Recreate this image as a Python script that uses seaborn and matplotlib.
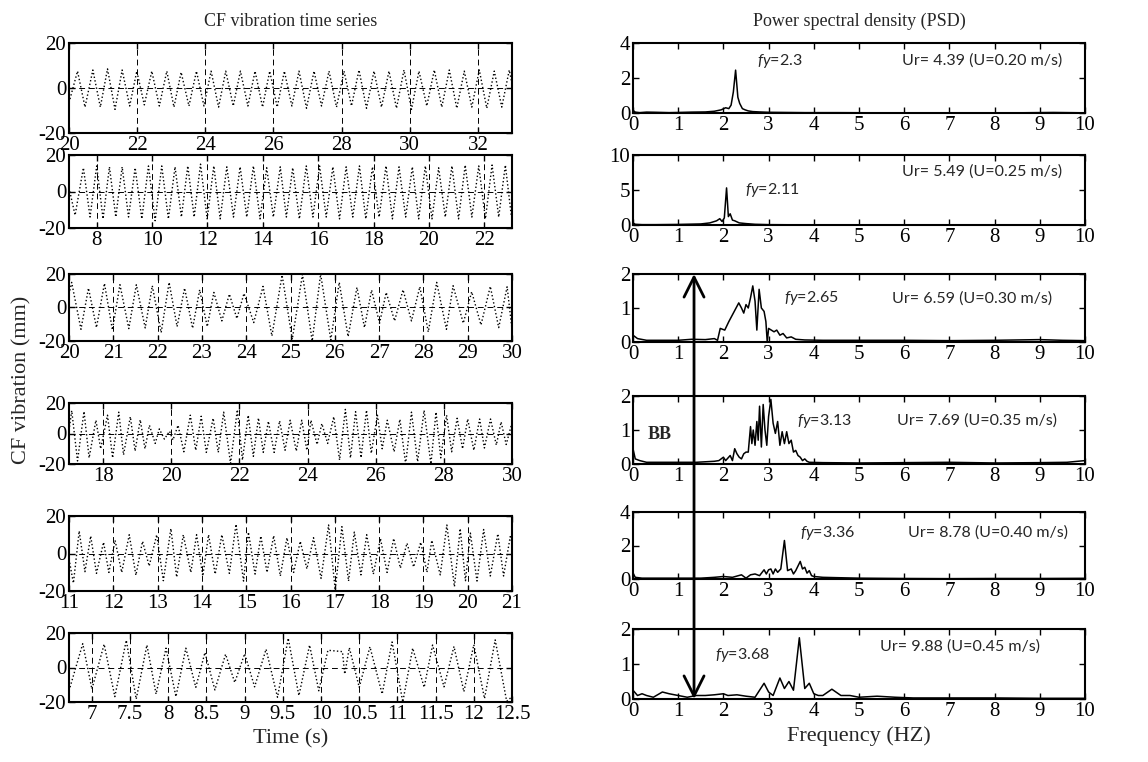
import numpy as np
import matplotlib
matplotlib.use("Agg")
import matplotlib.pyplot as plt
from matplotlib.patches import ConnectionPatch
import seaborn as sns

# ----- time series: peaks / troughs (t in s, y in mm) -----
ts1_pk_t = [20.25, 20.70, 21.13, 21.56, 21.99, 22.43, 22.87, 23.29, 23.74, 24.17, 24.60, 25.03, 25.46, 25.89, 26.32,
            26.75, 27.19, 27.63, 28.07, 28.51, 28.95, 29.39, 29.83, 30.27, 30.72, 31.16, 31.60, 32.04, 32.48, 32.92]
ts1_pk_y = [7.5, 8, 8.5, 8, 7.5, 7.5, 7.5, 7, 7.5, 7.5, 7.5, 7.5, 7.5, 7.5, 7.5,
            7.5, 7.5, 7.5, 7.5, 8, 7.5, 7.5, 8, 7.5, 8, 8, 7.5, 8, 7.5, 8]
ts1_tr_t = [20.0, 20.47, 20.92, 21.35, 21.78, 22.21, 22.65, 23.08, 23.52, 23.96, 24.39, 24.82, 25.25, 25.68, 26.11,
            26.54, 26.97, 27.41, 27.85, 28.29, 28.73, 29.17, 29.61, 30.05, 30.50, 30.94, 31.38, 31.82, 32.26, 32.70, 33.0]
ts1_tr_y = [-6.5, -8.5, -8.5, -9.5, -8, -7.5, -8, -8.5, -8, -8, -8.5, -8, -8, -8.5, -8.5,
            -8, -9, -8, -8.5, -8, -9, -8.5, -9, -9.5, -8, -8.5, -9, -8.5, -9, -8.5, 2]

ts2_pk_t = [7.52, 8.00, 8.46, 8.92, 9.39, 9.87, 10.35, 10.83, 11.29, 11.75, 12.23, 12.70, 13.18, 13.66, 14.14, 14.63, 15.08,
            15.57, 16.05, 16.53, 17.01, 17.49, 17.96, 18.45, 18.92, 19.40, 19.87, 20.35, 20.83, 21.31, 21.80, 22.28, 22.76]
ts2_pk_y = [13, 14, 13.5, 13.5, 13, 14, 14, 13.5, 14, 15, 14, 13.5, 13.5, 14, 13, 13.5, 13,
            14, 14, 13.5, 13.5, 14, 13.5, 14, 13.5, 13.5, 14, 13, 14, 14.5, 14, 14.5, 14.5]
ts2_tr_t = [7.0, 7.22, 7.76, 8.23, 8.69, 9.15, 9.63, 10.11, 10.59, 11.06, 11.52, 11.99, 12.46, 12.94, 13.42, 13.90, 14.38, 14.85,
            15.32, 15.81, 16.29, 16.77, 17.25, 17.72, 18.20, 18.68, 19.16, 19.63, 20.11, 20.59, 21.07, 21.55, 22.04, 22.52, 22.98]
ts2_tr_y = [2, -13, -14, -15, -14, -14, -15, -16, -15, -14, -14, -15, -15, -14, -14, -15, -14, -14,
            -15, -14, -14, -15, -14, -15, -14, -15, -14, -15, -15, -14, -15, -14, -15, -14, -14]

ts3_pk_t = [20.06, 20.44, 20.80, 21.15, 21.52, 21.88, 22.26, 22.61, 22.95, 23.27, 23.62, 23.95, 24.38, 24.81,
            25.27, 25.68, 26.10, 26.50, 26.83, 27.16, 27.54, 27.92, 28.30, 28.67, 29.09, 29.51, 29.89]
ts3_pk_y = [15, 11.6, 14.4, 13.6, 13.6, 13, 15, 11.6, 10.6, 9, 8, 8.4, 12.6, 19.4,
            19.8, 20, 15, 12, 10.4, 9, 10.6, 12.4, 15, 13, 9.4, 12.6, 12.4]
ts3_tr_t = [20.0, 20.27, 20.62, 20.98, 21.35, 21.72, 22.08, 22.44, 22.79, 23.12, 23.45, 23.79, 24.17, 24.58,
            25.04, 25.49, 25.91, 26.30, 26.67, 27.01, 27.35, 27.73, 28.11, 28.52, 28.90, 29.30, 29.70, 30.0]
ts3_tr_y = [8, -13, -12, -13.4, -12.6, -12.2, -15, -11.4, -12.4, -11.4, -8, -6.6, -9, -17,
            -19, -20, -19.4, -17.4, -12, -9.4, -8, -8, -14.6, -13, -9.4, -10.4, -12, -13]

ts4_pk_t = [17.08, 17.44, 17.79, 18.13, 18.46, 18.80, 19.09, 19.36, 19.65, 19.95, 20.20, 20.56, 20.88, 21.23,
            21.54, 21.94, 22.26, 22.56, 22.85, 23.18, 23.49, 23.83, 24.10, 24.42, 24.77, 25.11, 25.41, 25.73,
            26.05, 26.34, 26.71, 27.05, 27.42, 27.77, 28.08, 28.39, 28.70, 29.05, 29.37, 29.68, 29.98]
ts4_pk_y = [15, 14.5, 8.7, 12, 14, 11, 9, 5.4, 3, 1.5, 5.4, 12, 11.3, 10,
            14, 15.6, 12, 10.2, 8, 8.3, 8.7, 8.7, 8.7, 6.5, 11, 15.8, 14.3, 15.3,
            12, 8.7, 9.3, 14, 15.2, 14, 12, 10, 9.5, 9.5, 9.5, 7.6, 5.4]
ts4_tr_t = [17.0, 17.25, 17.59, 17.93, 18.28, 18.60, 18.94, 19.23, 19.53, 19.80, 20.05, 20.37, 20.72, 21.03, 21.38,
            21.74, 22.09, 22.41, 22.70, 23.02, 23.34, 23.67, 23.98, 24.28, 24.59, 24.94, 25.26, 25.57, 25.87,
            26.19, 26.54, 26.88, 27.23, 27.62, 27.91, 28.23, 28.55, 28.88, 29.19, 29.54, 29.83]
ts4_tr_y = [2, -18, -16, -10, -16, -14, -11.5, -10, -6.5, -3.7, -4.3, -12, -11, -12.4, -12.4,
            -19.6, -17.4, -15, -12.4, -12.4, -11, -11.5, -11, -7.2, -6.5, -17.4, -16, -15.9, -13,
            -10, -12, -20, -18.5, -20, -16, -12, -10, -11, -9.5, -7.6, -7.2]

ts5_pk_t = [11.23, 11.49, 11.78, 12.04, 12.36, 12.66, 12.98, 13.30, 13.58, 13.88, 14.15, 14.45, 14.77, 15.05, 15.33, 15.62, 15.92,
            16.22, 16.52, 16.86, 17.16, 17.44, 17.72, 18.03, 18.33, 18.63, 18.94, 19.19, 19.53, 19.83, 20.06, 20.36, 20.68, 20.96, 21.0]
ts5_pk_y = [12, 9.3, 6, 7, 10, 6.5, 10, 13.3, 10, 10, 10, 10, 15.6, 11.4, 9.3, 9.5, 8.4,
            6.5, 8.4, 15.2, 14.3, 11.4, 10, 8, 8, 5.5, 6, 7, 15.2, 13.3, 10.9, 12.8, 10.5, 9, 6]
ts5_tr_t = [11.0, 11.10, 11.36, 11.62, 11.90, 12.19, 12.51, 12.81, 13.13, 13.43, 13.75, 14.02, 14.30, 14.62, 14.94, 15.20, 15.47, 15.77,
            16.07, 16.37, 16.69, 17.01, 17.31, 17.59, 17.87, 18.18, 18.48, 18.78, 19.08, 19.38, 19.70, 19.95, 20.21, 20.51, 20.81]
ts5_tr_y = [-3, -15.8, -9.7, -10.6, -10.1, -10.1, -11.6, -6.7, -14.5, -12.6, -10.1, -12, -11, -10.6, -14.7, -11, -10.1, -12,
            -10.1, -8.2, -13.3, -19.5, -14.7, -11.4, -11, -10.1, -7.8, -7.2, -10, -11.4, -17.7, -14.5, -14.7, -12, -12]

ts6_pk_t = [6.88, 7.16, 7.45, 7.72, 7.97, 8.23, 8.48, 8.75, 9.00, 9.28, 9.57, 9.85, 10.09, 10.28,
            10.37, 10.64, 10.93, 11.20, 11.46, 11.74, 12.00, 12.28]
ts6_pk_y = [13.8, 13.5, 15.8, 13, 11.2, 11.2, 8.7, 7.7, 8, 10.6, 17, 13, 10, 9.2,
            11.5, 12, 14.8, 11.2, 13, 12.2, 13.2, 16]
ts6_tr_t = [6.70, 7.00, 7.30, 7.58, 7.84, 8.10, 8.36, 8.61, 8.87, 9.13, 9.43, 9.71, 9.97, 10.31,
            10.50, 10.80, 11.07, 11.35, 11.61, 11.87, 12.14, 12.43, 12.5]
ts6_tr_y = [-13.5, -12.5, -16.9, -18.3, -15.4, -16.9, -11.5, -13, -8.7, -11.2, -17.3, -16.3, -13.5, -3.8,
            -11.5, -15.4, -20, -11.5, -11.2, -14, -18, -19.5, -17]

ts_xlim = [(20, 33), (7, 23), (20, 30), (17, 30), (11, 21), (6.7, 12.5)]
ts_xticks = [np.arange(20, 33, 2), np.arange(8, 23, 2), np.arange(20, 31, 1),
             np.arange(18, 31, 2), np.arange(11, 22, 1), np.arange(7, 12.51, 0.5)]

# ----- PSD spectra (f in Hz) -----
psd1_f = [0, 0.05, 0.15, 0.3, 0.5, 0.8, 1.0, 1.3, 1.6, 1.8, 1.95, 2.05, 2.12, 2.17, 2.22, 2.27, 2.32,
          2.36, 2.42, 2.48, 2.55, 2.65, 2.8, 3.0, 3.4, 3.8, 4.5, 5.5, 6.5, 7.5, 8.5, 9.3, 10]
psd1_p = [0.15, 0.05, 0.02, 0.05, 0.04, 0.02, 0.03, 0.05, 0.06, 0.1, 0.18, 0.3, 0.25, 0.45, 1.2, 2.45, 0.9,
          0.55, 0.25, 0.18, 0.12, 0.08, 0.06, 0.04, 0.03, 0.02, 0.02, 0.01, 0.01, 0.01, 0.01, 0.03, 0.01]
psd2_f = [0, 0.05, 0.2, 0.5, 1.0, 1.5, 1.7, 1.85, 1.92, 1.97, 2.02, 2.07, 2.11, 2.15,
          2.2, 2.25, 2.35, 2.5, 2.7, 3.0, 3.5, 4, 5, 6, 7, 8, 9, 10]
psd2_p = [0.3, 0.1, 0.05, 0.05, 0.08, 0.15, 0.3, 0.6, 0.9, 0.5, 1.0, 5.3, 1.2, 1.6,
          0.7, 0.6, 0.3, 0.2, 0.1, 0.05, 0.03, 0.02, 0.02, 0.02, 0.02, 0.02, 0.02, 0.02]
psd3_f = [0, 0.1, 0.3, 0.6, 1.0, 1.3, 1.6, 1.8, 1.87, 1.93, 2.03, 2.12, 2.2, 2.28, 2.34, 2.4, 2.45, 2.5, 2.55, 2.6,
          2.65, 2.7, 2.74, 2.79, 2.84, 2.9, 2.94, 2.97, 3.0, 3.06, 3.12, 3.18, 3.25, 3.32, 3.4, 3.5, 3.6, 3.8, 4.2, 5,
          6, 7, 8, 9, 9.5, 10]
psd3_p = [0.2, 0.1, 0.05, 0.05, 0.05, 0.08, 0.07, 0.1, 0.05, 0.4, 0.35, 0.6, 0.8, 1.0, 1.15, 1.0, 0.85, 1.1, 1.0, 1.3,
          1.65, 1.2, 0.35, 1.55, 1.0, 0.9, 0.6, 0.0, 0.4, 0.35, 0.3, 0.35, 0.2, 0.25, 0.12, 0.15, 0.08, 0.06, 0.05, 0.05,
          0.05, 0.04, 0.05, 0.07, 0.05, 0.04]
psd4_f = [0, 0.05, 0.15, 0.3, 0.6, 1.0, 1.4, 1.8, 1.9, 2.0, 2.05, 2.15, 2.2, 2.25, 2.3, 2.35, 2.4, 2.45, 2.5, 2.55,
          2.6, 2.63, 2.66, 2.7, 2.74, 2.77, 2.8, 2.84, 2.88, 2.92, 2.96, 3.0, 3.05, 3.1, 3.15, 3.2, 3.25, 3.3, 3.35, 3.4,
          3.45, 3.5, 3.55, 3.6, 3.65, 3.7, 3.75, 3.8, 3.85, 3.9, 4.2, 5, 6, 7, 8, 9, 9.6, 10]
psd4_p = [0.45, 0.15, 0.1, 0.05, 0.05, 0.05, 0.05, 0.08, 0.1, 0.2, 0.1, 0.25, 0.1, 0.45, 0.3, 0.2, 0.15, 0.3, 0.35, 0.35,
          1.1, 0.6, 1.0, 0.55, 1.25, 0.7, 1.7, 0.5, 1.75, 1.0, 0.55, 1.4, 1.9, 1.2, 0.9, 1.25, 0.55, 0.95, 0.6, 0.95,
          0.6, 0.7, 0.35, 0.4, 0.25, 0.2, 0.1, 0.15, 0.08, 0.05, 0.04, 0.03, 0.04, 0.05, 0.03, 0.04, 0.05, 0.1]
psd5_f = [0, 0.05, 0.2, 0.5, 1.0, 1.5, 1.8, 2.0, 2.2, 2.4, 2.5, 2.6, 2.7, 2.8, 2.9, 2.95, 3.0, 3.05, 3.1, 3.15,
          3.2, 3.27, 3.35, 3.42, 3.5, 3.55, 3.6, 3.7, 3.75, 3.8, 3.85, 3.9, 3.95, 4.0, 4.2, 4.5, 5.0, 6, 7, 8, 9, 10]
psd5_p = [0.35, 0.1, 0.05, 0.05, 0.05, 0.05, 0.1, 0.15, 0.1, 0.25, 0.05, 0.25, 0.3, 0.2, 0.55, 0.3, 0.55, 0.6, 0.3, 0.6,
          0.4, 0.6, 2.3, 0.5, 0.6, 0.3, 0.5, 1.05, 0.6, 0.7, 0.35, 0.5, 0.2, 0.15, 0.1, 0.08, 0.05, 0.03, 0.02, 0.03, 0.03, 0.04]
psd6_f = [0, 0.1, 0.2, 0.3, 0.45, 0.65, 0.8, 1.0, 1.2, 1.4, 1.6, 1.8, 2.0, 2.1, 2.3, 2.5, 2.7, 2.9, 3.0, 3.1,
          3.25, 3.35, 3.45, 3.55, 3.68, 3.8, 3.9, 4.0, 4.1, 4.2, 4.4, 4.6, 4.8, 5.0, 5.4, 5.8, 6.2, 7, 8, 9, 10]
psd6_p = [0.25, 0.1, 0.15, 0.1, 0.05, 0.2, 0.15, 0.1, 0.05, 0.1, 0.1, 0.12, 0.15, 0.1, 0.12, 0.08, 0.05, 0.45, 0.2, 0.1,
          0.6, 0.3, 0.5, 0.25, 1.75, 0.3, 0.45, 0.15, 0.1, 0.1, 0.28, 0.1, 0.1, 0.05, 0.08, 0.05, 0.03, 0.03, 0.03, 0.02, 0.02]

psd_ymax = [4, 10, 2, 2, 4, 2]
psd_yticks = [[0, 2, 4], [0, 5, 10], [0, 1, 2], [0, 1, 2], [0, 2, 4], [0, 1, 2]]
fy_vals = ["2.3", "2.11", "2.65", "3.13", "3.36", "3.68"]
fy_pos = [(2.75, 3.0), (2.47, 5.0), (3.33, 1.28), (3.63, 1.27), (3.69, 2.75), (1.81, 1.25)]
ur_text = ["Ur= 4.39 (U=0.20 m/s)", "Ur= 5.49 (U=0.25 m/s)", "Ur= 6.59 (U=0.30 m/s)",
           "Ur= 7.69 (U=0.35 m/s)", "Ur= 8.78 (U=0.40 m/s)", "Ur= 9.88 (U=0.45 m/s)"]
ur_pos = [(5.95, 3.0), (5.95, 7.7), (5.73, 1.28), (5.84, 1.27), (6.09, 2.75), (5.46, 1.5)]

ts_data = [(ts1_pk_t, ts1_pk_y, ts1_tr_t, ts1_tr_y), (ts2_pk_t, ts2_pk_y, ts2_tr_t, ts2_tr_y),
           (ts3_pk_t, ts3_pk_y, ts3_tr_t, ts3_tr_y), (ts4_pk_t, ts4_pk_y, ts4_tr_t, ts4_tr_y),
           (ts5_pk_t, ts5_pk_y, ts5_tr_t, ts5_tr_y), (ts6_pk_t, ts6_pk_y, ts6_tr_t, ts6_tr_y)]
psd_data = [(psd1_f, psd1_p), (psd2_f, psd2_p), (psd3_f, psd3_p),
            (psd4_f, psd4_p), (psd5_f, psd5_p), (psd6_f, psd6_p)]

# ----- STYLE -----
sns.set_style("ticks")
plt.rcParams['font.family'] = ['Liberation Serif', 'DejaVu Serif']
plt.rcParams['axes.unicode_minus'] = False
plt.rcParams['mathtext.fontset'] = 'custom'
plt.rcParams['mathtext.it'] = 'Lato:italic'
plt.rcParams['mathtext.rm'] = 'Lato'

W, H = 1148, 762
fig = plt.figure(figsize=(W / 100, H / 100), dpi=100)

def box(l, r, t, b):
    return [l / W, 1 - b / H, (r - l) / W, (b - t) / H]

left_rows = [(43, 133), (155, 228), (274, 341), (403, 464), (516, 591), (633, 702)]
right_rows = [(43, 113), (155, 225), (274, 342), (396, 464), (512, 579), (629, 699)]

def style_axes(ax):
    for s in ax.spines.values():
        s.set_linewidth(1.5)
        s.set_color('k')
    ax.tick_params(direction='in', top=True, right=True, length=4, width=1,
                   labelsize=15, pad=2, colors='k')

# ----- LEFT: time series -----
left_axes = []
for i, (pk_t, pk_y, tr_t, tr_y) in enumerate(ts_data):
    ax = fig.add_axes(box(69, 512, *left_rows[i]))
    t = np.concatenate([pk_t, tr_t])
    y = np.concatenate([pk_y, tr_y])
    sns.lineplot(x=t, y=y, ax=ax, color='k', lw=1.0, linestyle=':', estimator=None, sort=True)
    ax.set_xlim(*ts_xlim[i])
    ax.set_ylim(-20, 20)
    ax.set_xticks(ts_xticks[i])
    ax.set_xticklabels([f"{v:g}" for v in ts_xticks[i]])
    ax.set_yticks([-20, 0, 20])
    ax.set_axisbelow(True)
    ax.grid(True, color='k', lw=0.7, linestyle=(0, (6, 4)))
    ax.set_xlabel("")
    ax.set_ylabel("")
    style_axes(ax)
    left_axes.append(ax)

left_axes[0].set_title("CF vibration time series", fontsize=13, pad=12)
left_axes[-1].set_xlabel("Time (s)", fontsize=16, labelpad=4)
fig.text(22 / W, 1 - 380 / H, "CF vibration (mm)", rotation=90, fontsize=16, ha='center', va='center')

# ----- RIGHT: PSD -----
right_axes = []
for i, (f, p) in enumerate(psd_data):
    ax = fig.add_axes(box(633, 1085, *right_rows[i]))
    sns.lineplot(x=f, y=p, ax=ax, color='k', lw=1.1, estimator=None, sort=True)
    ax.set_xlim(0, 10)
    ax.set_ylim(0, psd_ymax[i])
    ax.set_xticks(range(0, 11))
    ax.set_yticks(psd_yticks[i])
    ax.set_xlabel("")
    ax.set_ylabel("")
    style_axes(ax)
    ax.text(*fy_pos[i], r"$\mathit{fy}$=" + fy_vals[i], family='Lato', fontsize=11.5, va='center', ha='left')
    ax.text(*ur_pos[i], ur_text[i], family='Lato', fontsize=11.5, va='center', ha='left')
    right_axes.append(ax)

right_axes[0].set_title("Power spectral density (PSD)", fontsize=13, pad=12)
right_axes[-1].set_xlabel("Frequency (HZ)", fontsize=16, labelpad=4)
right_axes[3].text(0.32, 0.87, "BB", fontsize=13, fontweight='bold', va='center', ha='left')

# broadband arrow spanning the spectra
arrow = ConnectionPatch(xyA=(1.35, 2), coordsA=right_axes[2].transData,
                        xyB=(1.35, 0), coordsB=right_axes[5].transData,
                        arrowstyle='<->,head_length=0.9,head_width=0.45', lw=2, color='k', mutation_scale=16)
fig.add_artist(arrow)

fig.savefig("out.png", dpi=100)
